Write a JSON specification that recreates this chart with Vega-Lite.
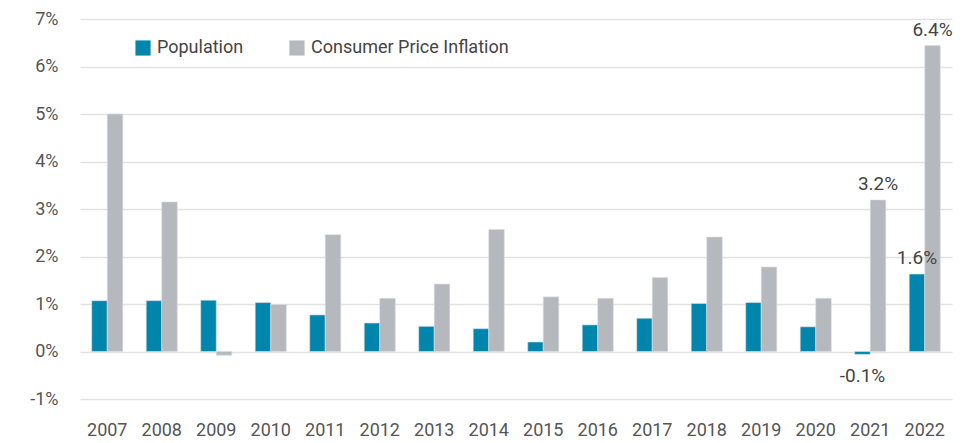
{
  "$schema": "https://vega.github.io/schema/vega-lite/v6.json",
  "width": 872,
  "height": 380,
  "autosize": {"type": "none"},
  "padding": {"left": 80, "top": 19, "right": 16, "bottom": 44},
  "background": "white",
  "config": {
    "view": {"stroke": null},
    "font": "Roboto"
  },
  "data": {
    "values": [
      {"year": "2007", "series": "Population", "value": 1.07, "label": ""},
      {"year": "2007", "series": "Consumer Price Inflation", "value": 5.0, "label": ""},
      {"year": "2008", "series": "Population", "value": 1.07, "label": ""},
      {"year": "2008", "series": "Consumer Price Inflation", "value": 3.15, "label": ""},
      {"year": "2009", "series": "Population", "value": 1.08, "label": ""},
      {"year": "2009", "series": "Consumer Price Inflation", "value": -0.08, "label": ""},
      {"year": "2010", "series": "Population", "value": 1.03, "label": ""},
      {"year": "2010", "series": "Consumer Price Inflation", "value": 0.99, "label": ""},
      {"year": "2011", "series": "Population", "value": 0.77, "label": ""},
      {"year": "2011", "series": "Consumer Price Inflation", "value": 2.46, "label": ""},
      {"year": "2012", "series": "Population", "value": 0.6, "label": ""},
      {"year": "2012", "series": "Consumer Price Inflation", "value": 1.12, "label": ""},
      {"year": "2013", "series": "Population", "value": 0.53, "label": ""},
      {"year": "2013", "series": "Consumer Price Inflation", "value": 1.42, "label": ""},
      {"year": "2014", "series": "Population", "value": 0.48, "label": ""},
      {"year": "2014", "series": "Consumer Price Inflation", "value": 2.57, "label": ""},
      {"year": "2015", "series": "Population", "value": 0.2, "label": ""},
      {"year": "2015", "series": "Consumer Price Inflation", "value": 1.15, "label": ""},
      {"year": "2016", "series": "Population", "value": 0.56, "label": ""},
      {"year": "2016", "series": "Consumer Price Inflation", "value": 1.12, "label": ""},
      {"year": "2017", "series": "Population", "value": 0.7, "label": ""},
      {"year": "2017", "series": "Consumer Price Inflation", "value": 1.56, "label": ""},
      {"year": "2018", "series": "Population", "value": 1.01, "label": ""},
      {"year": "2018", "series": "Consumer Price Inflation", "value": 2.41, "label": ""},
      {"year": "2019", "series": "Population", "value": 1.03, "label": ""},
      {"year": "2019", "series": "Consumer Price Inflation", "value": 1.78, "label": ""},
      {"year": "2020", "series": "Population", "value": 0.52, "label": ""},
      {"year": "2020", "series": "Consumer Price Inflation", "value": 1.12, "label": ""},
      {"year": "2021", "series": "Population", "value": -0.06, "label": "-0.1%"},
      {"year": "2021", "series": "Consumer Price Inflation", "value": 3.19, "label": "3.2%"},
      {"year": "2022", "series": "Population", "value": 1.63, "label": "1.6%"},
      {"year": "2022", "series": "Consumer Price Inflation", "value": 6.44, "label": "6.4%"}
    ]
  },
  "encoding": {
    "x": {
      "field": "year",
      "type": "nominal",
      "scale": {"paddingInner": 0.43, "paddingOuter": 0.215},
      "axis": {
        "title": null,
        "domain": false,
        "ticks": false,
        "labelAngle": 0,
        "labelFontSize": 18,
        "labelColor": "#555555",
        "labelPadding": 22
      }
    },
    "xOffset": {
      "field": "series",
      "type": "nominal",
      "scale": {"domain": ["Population", "Consumer Price Inflation"], "paddingInner": 0, "paddingOuter": 0}
    },
    "y": {
      "field": "value",
      "type": "quantitative",
      "scale": {"domain": [-1, 7], "nice": false, "zero": false},
      "axis": {
        "title": null,
        "domain": false,
        "ticks": false,
        "values": [-1, 0, 1, 2, 3, 4, 5, 6, 7],
        "labelExpr": "datum.value + '%'",
        "labelFontSize": 18,
        "labelColor": "#555555",
        "labelPadding": 22,
        "gridColor": "#e2e2e2",
        "gridWidth": 1.5
      }
    }
  },
  "layer": [
    {
      "mark": {"type": "bar", "stroke": "#dcdde0", "strokeWidth": 0.6},
      "encoding": {
        "color": {
          "field": "series",
          "type": "nominal",
          "scale": {"domain": ["Population", "Consumer Price Inflation"], "range": ["#0086ac", "#b5b8bc"]},
          "legend": {
            "title": null,
            "orient": "none",
            "legendX": 54,
            "legendY": 20,
            "direction": "horizontal",
            "symbolType": "square",
            "symbolSize": 230,
            "symbolStrokeWidth": 0,
            "labelFontSize": 18,
            "labelColor": "#444444",
            "labelOffset": 5,
            "labelLimit": 400,
            "columnPadding": 44
          }
        }
      }
    },
    {
      "transform": [{"filter": "datum.label != '' && datum.value >= 0"}],
      "mark": {"type": "text", "baseline": "alphabetic", "dy": -10, "fontSize": 19, "color": "#444444"},
      "encoding": {"text": {"field": "label"}}
    },
    {
      "transform": [{"filter": "datum.label != '' && datum.value < 0"}],
      "mark": {"type": "text", "baseline": "top", "dy": 13, "fontSize": 19, "color": "#444444"},
      "encoding": {"text": {"field": "label"}}
    }
  ]
}
